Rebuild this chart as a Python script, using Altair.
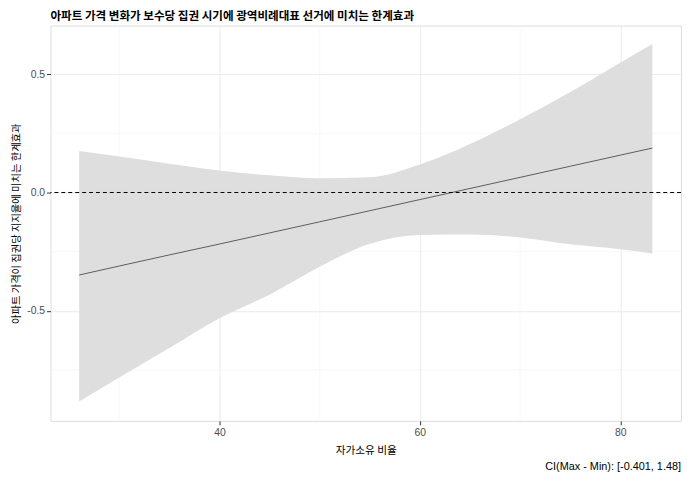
import altair as alt
import pandas as pd

# ---- data ----
own_rate = [26.0, 30.0, 35.0, 40.0, 45.0, 50.0, 55.0, 60.0, 65.0, 70.0, 75.0, 80.0, 83.2]
marg_eff = [-0.349, -0.311, -0.264, -0.218, -0.171, -0.124, -0.077, -0.030, 0.017, 0.064, 0.111, 0.158, 0.188]
ci_upper = [0.175, 0.152, 0.122, 0.093, 0.073, 0.060, 0.064, 0.118, 0.205, 0.310, 0.425, 0.549, 0.628]
ci_lower = [-0.884, -0.783, -0.658, -0.532, -0.432, -0.314, -0.217, -0.180, -0.178, -0.190, -0.219, -0.240, -0.258]

x_major = [40, 60, 80]
x_minor = [30, 50, 70]
y_major = [-0.5, 0.0, 0.5]
y_minor = [-0.75, -0.25, 0.25]
ref_line = [0.0]

title_text = "아파트 가격 변화가 보수당 집권 시기에 광역비례대표 선거에 미치는 한계효과"
x_title = "자가소유 비율"
y_title = "아파트 가격이 집권당 지지율에 미치는 한계효과"
caption = "CI(Max - Min): [-0.401, 1.48]"

df = pd.DataFrame({"x": own_rate, "me": marg_eff, "lo": ci_lower, "hi": ci_upper})

W, H = 638, 400
KFONT = "Noto Sans CJK KR"
NFONT = "Liberation Sans"

xscale = alt.Scale(domain=[23.14, 86.06], nice=False, zero=False)
yscale = alt.Scale(domain=[-0.966, 0.706], nice=False, zero=False)

xaxis = alt.Axis(values=x_major, title=x_title, grid=True, gridColor="#EBEBEB", gridWidth=1,
                 domain=False, ticks=True, tickColor="#333333", tickSize=4, tickWidth=1,
                 labelFont=NFONT, labelFontSize=10.5, labelColor="#4D4D4D", labelPadding=3,
                 titleFont=KFONT, titleFontSize=10.8, titleFontWeight="normal", titleColor="#000000",
                 titlePadding=7)
yaxis = alt.Axis(values=y_major, title=y_title, grid=True, gridColor="#EBEBEB", gridWidth=1,
                 domain=False, ticks=True, tickColor="#333333", tickSize=4, tickWidth=1,
                 labelFont=NFONT, labelFontSize=10.5, labelColor="#4D4D4D", labelPadding=2,
                 labelExpr="datum.value < 0 ? '-' + format(-datum.value, '.1f') : format(datum.value, '.1f')",
                 titleFont=KFONT, titleFontSize=10.4, titleFontWeight="normal", titleColor="#000000",
                 titlePadding=5)

minor_x = alt.Chart(pd.DataFrame({"x": x_minor})).mark_rule(color="#F3F3F3", strokeWidth=0.6).encode(
    x=alt.X("x:Q", scale=xscale, axis=xaxis))
minor_y = alt.Chart(pd.DataFrame({"y": y_minor})).mark_rule(color="#F3F3F3", strokeWidth=0.6).encode(
    y=alt.Y("y:Q", scale=yscale, axis=yaxis))

band = alt.Chart(df).mark_area(color="#DEDEDE", opacity=1, interpolate="monotone").encode(
    x=alt.X("x:Q", scale=xscale, axis=xaxis),
    y=alt.Y("lo:Q", scale=yscale, axis=yaxis),
    y2="hi:Q")

line = alt.Chart(df).mark_line(color="#3A3A3A", strokeWidth=0.8).encode(
    x=alt.X("x:Q", scale=xscale, axis=xaxis),
    y=alt.Y("me:Q", scale=yscale, axis=yaxis))

zero = alt.Chart(pd.DataFrame({"y": ref_line})).mark_rule(color="#000000", strokeWidth=1, strokeDash=[4, 3]).encode(
    y=alt.Y("y:Q", scale=yscale, axis=yaxis))

cap = alt.Chart(pd.DataFrame({"t": [caption]})).mark_text(
    align="right", baseline="middle", font=NFONT, fontSize=11, color="#000000").encode(
    x=alt.value(W), y=alt.value(H + 47), text="t:N")

chart = alt.layer(minor_x, minor_y, band, line, zero, cap).properties(
    width=W, height=H,
    title=alt.TitleParams(title_text, anchor="start", frame="group", font=KFONT, fontSize=11.7,
                          fontWeight="bold", color="#000000", offset=3),
    padding={"left": 43, "top": 15, "right": 2, "bottom": 55},
    autosize="none",
).configure_view(stroke="#333333", strokeWidth=1).configure(background="white")

chart.save("out.html", embed_options={"renderer": "svg", "actions": False})
